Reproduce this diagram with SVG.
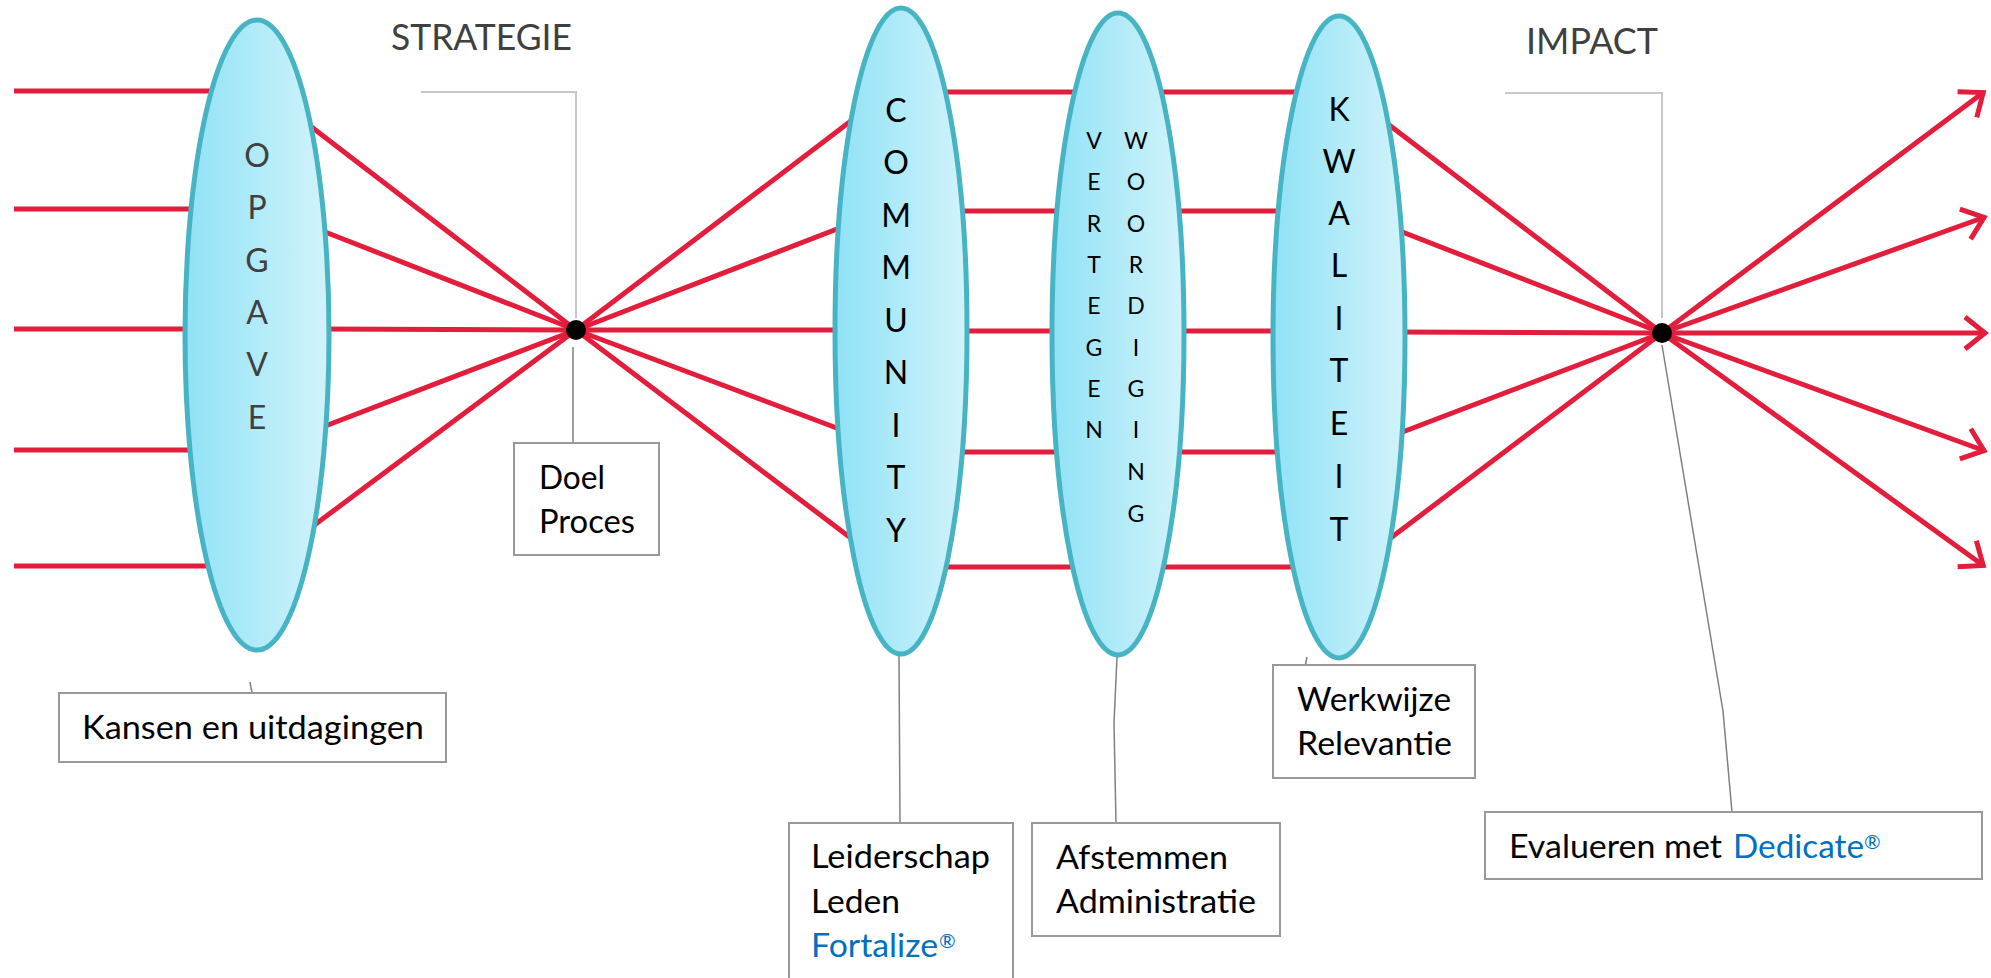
<svg xmlns="http://www.w3.org/2000/svg" width="1991" height="978" viewBox="0 0 1991 978">
<style>
.ray{stroke:#e31d3c;stroke-width:5;fill:none;stroke-linecap:butt}
.lens{fill:url(#lensfill);stroke:#47b4c4;stroke-width:5}
.big{font-family:Lato,"Open Sans",sans-serif;font-size:32px;fill:#000;text-anchor:middle}
.small{font-family:Lato,"Open Sans",sans-serif;font-size:23px;fill:#000;text-anchor:middle}
.box{fill:#fff;stroke:#999;stroke-width:2}
.lbl{font-family:Lato,"Open Sans",sans-serif;font-size:33px;fill:#000}
.blue{fill:#0070c0}
.sup{font-family:Lato,"Open Sans",sans-serif;font-size:20px;fill:#0070c0}
.head{font-family:Lato,"Open Sans",sans-serif;font-weight:400;font-size:36px;fill:#404040}
.call{stroke:#c8c8c8;stroke-width:2;fill:none}
.lead{stroke:#808080;stroke-width:1.5;fill:none}
</style>
<defs>
<linearGradient id="lensfill" x1="0" y1="0" x2="1" y2="0">
<stop offset="0" stop-color="#90e2f6"/>
<stop offset="1" stop-color="#d2f3fb"/>
</linearGradient>
<marker id="arr" markerUnits="userSpaceOnUse" viewBox="-30 -22 34 44" markerWidth="34" markerHeight="44" refX="0" refY="0" orient="auto">
<path d="M-21,-16 L-1,0 L-21,16" fill="none" stroke="#e31d3c" stroke-width="5"/>
</marker>
</defs>
<rect width="1991" height="978" fill="#fff"/>

<g id="headers">
<text class="head" x="391" y="50" textLength="181" lengthAdjust="spacingAndGlyphs">STRATEGIE</text>
<text class="head" x="1526" y="54" textLength="132" lengthAdjust="spacingAndGlyphs">IMPACT</text>
</g>

<g id="connectors">
<line class="ray" x1="14" y1="91" x2="257" y2="91"/>
<line class="ray" x1="14" y1="209" x2="257" y2="209"/>
<line class="ray" x1="14" y1="329" x2="257" y2="329"/>
<line class="ray" x1="14" y1="450" x2="257" y2="450"/>
<line class="ray" x1="14" y1="566" x2="257" y2="566"/>
<line class="ray" x1="305" y1="122" x2="576" y2="330"/>
<line class="ray" x1="320" y1="230" x2="576" y2="330"/>
<line class="ray" x1="320" y1="329" x2="576" y2="330"/>
<line class="ray" x1="320" y1="428" x2="576" y2="330"/>
<line class="ray" x1="305" y1="532" x2="576" y2="330"/>
<line class="ray" x1="576" y1="330" x2="860" y2="114"/>
<line class="ray" x1="576" y1="330" x2="850" y2="224"/>
<line class="ray" x1="576" y1="330" x2="850" y2="330"/>
<line class="ray" x1="576" y1="330" x2="850" y2="433"/>
<line class="ray" x1="576" y1="330" x2="860" y2="545"/>
<line class="ray" x1="900" y1="92" x2="1338" y2="92"/>
<line class="ray" x1="900" y1="211" x2="1338" y2="211"/>
<line class="ray" x1="900" y1="331" x2="1338" y2="331"/>
<line class="ray" x1="900" y1="452" x2="1338" y2="452"/>
<line class="ray" x1="900" y1="567" x2="1338" y2="567"/>
<line class="ray" x1="1380" y1="118" x2="1662" y2="333"/>
<line class="ray" x1="1392" y1="228" x2="1662" y2="333"/>
<line class="ray" x1="1392" y1="332" x2="1662" y2="333"/>
<line class="ray" x1="1392" y1="436" x2="1662" y2="333"/>
<line class="ray" x1="1380" y1="546" x2="1662" y2="333"/>
<line class="ray" x1="1662" y1="333" x2="1984" y2="92" marker-end="url(#arr)"/>
<line class="ray" x1="1662" y1="333" x2="1985" y2="217" marker-end="url(#arr)"/>
<line class="ray" x1="1662" y1="333" x2="1986" y2="333" marker-end="url(#arr)"/>
<line class="ray" x1="1662" y1="333" x2="1985" y2="451" marker-end="url(#arr)"/>
<line class="ray" x1="1662" y1="333" x2="1984" y2="566" marker-end="url(#arr)"/>
<polyline class="call" points="421,92 576,92 576,318"/>
<polyline class="call" points="1505,93 1662,93 1662,318"/>
<line class="lead" x1="573" y1="347" x2="573" y2="443"/>
<line class="lead" x1="250" y1="682" x2="252" y2="693"/>
<line class="lead" x1="899" y1="655" x2="900" y2="823"/>
<polyline class="lead" points="1117,657 1114,723 1116,823"/>
<line class="lead" x1="1307" y1="657" x2="1305" y2="667"/>
<polyline class="lead" points="1662,345 1723,711 1732,812"/>
</g>

<g id="focal1"><circle cx="576" cy="330" r="10" fill="#000"/></g>
<g id="focal2"><circle cx="1662" cy="333" r="10" fill="#000"/></g>

<g id="opgave">
<ellipse class="lens" cx="257" cy="335" rx="72" ry="315"/>
<g class="big" style="fill:#404040">
<text x="257" y="167">O</text><text x="257" y="219">P</text><text x="257" y="272">G</text>
<text x="257" y="324">A</text><text x="257" y="376">V</text><text x="257" y="429">E</text>
</g>
</g>

<g id="community">
<ellipse class="lens" cx="901" cy="331" rx="66" ry="323"/>
<g class="big">
<text x="896" y="122">C</text><text x="896" y="174">O</text><text x="896" y="227">M</text>
<text x="896" y="279">M</text><text x="896" y="332">U</text><text x="896" y="384">N</text>
<text x="896" y="437">I</text><text x="896" y="489">T</text><text x="896" y="542">Y</text>
</g>
</g>

<g id="vertegenwoordiging">
<ellipse class="lens" cx="1118" cy="334" rx="66" ry="321"/>
<g class="small">
<text x="1094" y="149">V</text><text x="1094" y="190">E</text><text x="1094" y="232">R</text>
<text x="1094" y="273">T</text><text x="1094" y="314">E</text><text x="1094" y="356">G</text>
<text x="1094" y="397">E</text><text x="1094" y="438">N</text>
<text x="1136" y="149">W</text><text x="1136" y="190">O</text><text x="1136" y="232">O</text>
<text x="1136" y="273">R</text><text x="1136" y="314">D</text><text x="1136" y="356">I</text>
<text x="1136" y="397">G</text><text x="1136" y="438">I</text><text x="1136" y="480">N</text>
<text x="1136" y="522">G</text>
</g>
</g>

<g id="kwaliteit">
<ellipse class="lens" cx="1339" cy="337" rx="66" ry="321"/>
<g class="big">
<text x="1339" y="121">K</text><text x="1339" y="173">W</text><text x="1339" y="225">A</text>
<text x="1339" y="277">L</text><text x="1339" y="330">I</text><text x="1339" y="382">T</text>
<text x="1339" y="435">E</text><text x="1339" y="488">I</text><text x="1339" y="541">T</text>
</g>
</g>

<g id="box-kansen">
<rect class="box" x="59" y="693" width="387" height="69"/>
<text class="lbl" x="82" y="739" textLength="342" lengthAdjust="spacingAndGlyphs">Kansen en uitdagingen</text>
</g>

<g id="box-doel">
<rect class="box" x="514" y="443" width="145" height="112"/>
<text class="lbl" x="539" y="489" textLength="66" lengthAdjust="spacingAndGlyphs">Doel</text>
<text class="lbl" x="539" y="533" textLength="96" lengthAdjust="spacingAndGlyphs">Proces</text>
</g>

<g id="box-leiderschap">
<rect class="box" x="789" y="823" width="224" height="170"/>
<text class="lbl" x="811" y="868" textLength="179" lengthAdjust="spacingAndGlyphs">Leiderschap</text>
<text class="lbl" x="811" y="913" textLength="89" lengthAdjust="spacingAndGlyphs">Leden</text>
<text class="lbl blue" x="811" y="957" textLength="127" lengthAdjust="spacingAndGlyphs">Fortalize</text>
<text class="sup" x="939" y="948">®</text>
</g>

<g id="box-afstemmen">
<rect class="box" x="1032" y="823" width="248" height="113"/>
<text class="lbl" x="1056" y="869" textLength="172" lengthAdjust="spacingAndGlyphs">Afstemmen</text>
<text class="lbl" x="1056" y="913" textLength="200" lengthAdjust="spacingAndGlyphs">Administratie</text>
</g>

<g id="box-werkwijze">
<rect class="box" x="1273" y="665" width="202" height="113"/>
<text class="lbl" x="1297" y="711" textLength="154" lengthAdjust="spacingAndGlyphs">Werkwijze</text>
<text class="lbl" x="1297" y="755" textLength="155" lengthAdjust="spacingAndGlyphs">Relevantie</text>
</g>

<g id="box-evalueren">
<rect class="box" x="1485" y="812" width="497" height="67"/>
<text class="lbl" x="1509" y="858" textLength="213" lengthAdjust="spacingAndGlyphs">Evalueren met</text>
<text class="lbl blue" x="1733" y="858" textLength="131" lengthAdjust="spacingAndGlyphs">Dedicate</text>
<text class="sup" x="1864" y="849">®</text>
</g>
</svg>
